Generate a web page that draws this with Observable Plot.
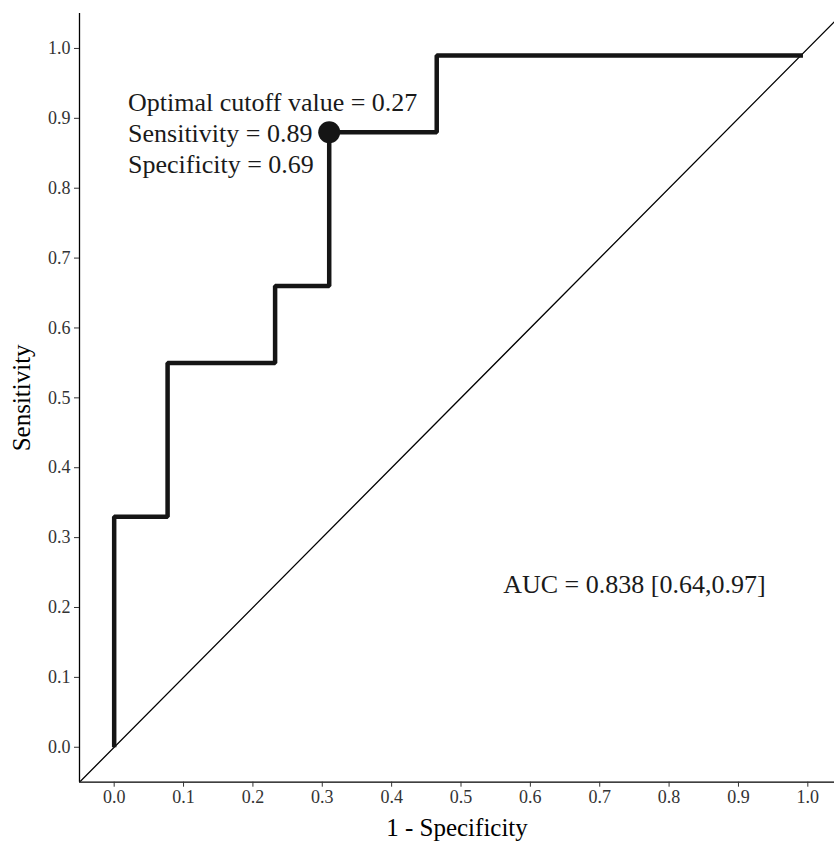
<!DOCTYPE html>
<html>
<head>
<meta charset="utf-8">
<script src="https://cdn.jsdelivr.net/npm/d3@7"></script>
<script src="https://cdn.jsdelivr.net/npm/@observablehq/plot@0.6"></script>
<style>
  html, body { margin: 0; padding: 0; background: #fff; }
  svg { display: block; }
</style>
</head>
<body>
<div id="chart"></div>
<script>
// ROC curve vertices (1 - specificity, sensitivity), drawn as step-after
const fpr = [0, 0, 0.077, 0.232, 0.31, 0.465, 0.993];
const tpr = [0, 0.33, 0.55, 0.66, 0.88, 0.99, 0.99];
// Optimal cutoff point
const cutX = [0.31];
const cutY = [0.88];
const cutLabel = ["Optimal cutoff value = 0.27\nSensitivity = 0.89\nSpecificity = 0.69"];
const aucLabel = ["AUC = 0.838 [0.64,0.97]"];
const ticks = [0, 0.1, 0.2, 0.3, 0.4, 0.5, 0.6, 0.7, 0.8, 0.9, 1.0];
const diag = [-0.05, 1.05];

const roc = fpr.map((x, i) => ({x, y: tpr[i]}));
const fmt = d3.format(".1f");
const font = "Liberation Serif, Times New Roman, serif";

const chart = Plot.plot({
  width: 834,
  height: 841,
  marginLeft: 79,
  marginRight: 0,
  marginTop: 13,
  marginBottom: 59.3,
  style: {fontFamily: font, background: "#fff", color: "#000"},
  x: {domain: [-0.05, 1.05], range: [79, 842]},
  y: {domain: [-0.05, 1.05]},
  marks: [
    Plot.line(diag, {x: d => d, y: d => d, stroke: "#000", strokeWidth: 1.3, clip: true}),
    Plot.line(roc, {x: "x", y: "y", curve: "step-after", stroke: "#151515", strokeWidth: 4.5, strokeLinecap: "butt", strokeLinejoin: "miter"}),
    Plot.dot(cutX.map((x, i) => ({x, y: cutY[i]})), {x: "x", y: "y", r: 11, fill: "#151515", stroke: "none"}),
    Plot.text(cutLabel, {x: 0.02, y: 0.88, text: d => d, textAnchor: "start", lineAnchor: "middle", lineHeight: 1.19, fontSize: 26, fill: "#1a1a1a"}),
    Plot.text(aucLabel, {x: 0.75, y: 0.233, text: d => d, textAnchor: "middle", lineAnchor: "middle", fontSize: 26, fill: "#1a1a1a"}),
    Plot.ruleX([-0.05], {stroke: "#000", strokeWidth: 1.3}),
    Plot.ruleY([-0.05], {stroke: "#000", strokeWidth: 1.3}),
    Plot.axisX({ticks, tickFormat: fmt, tickSize: 5, tickPadding: 3, fontSize: 18, fill: "#333", stroke: "#333",
      label: "1 - Specificity", labelAnchor: "center", labelArrow: "none", labelOffset: 54}),
    Plot.axisY({ticks, tickFormat: fmt, tickSize: 5, tickPadding: 4, fontSize: 18, fill: "#333", stroke: "#333",
      label: "Sensitivity", labelAnchor: "center", labelArrow: "none", labelOffset: 67})
  ]
});
// enlarge axis titles
chart.querySelectorAll("g[aria-label='x-axis label'] text, g[aria-label='y-axis label'] text").forEach(t => {
  t.setAttribute("font-size", 25);
  t.style.fontSize = "25px";
  t.setAttribute("fill", "#000");
});
document.getElementById("chart").appendChild(chart);
</script>
</body>
</html>
